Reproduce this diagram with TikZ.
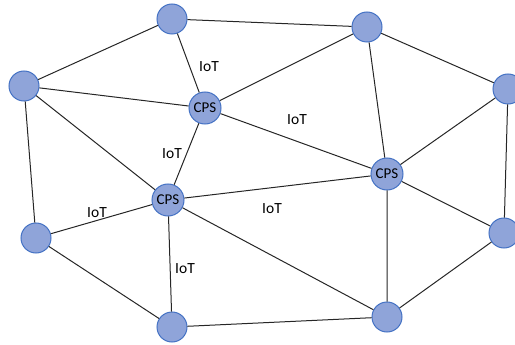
\documentclass[tikz,border=0pt]{standalone}
\usepackage{fontspec}
\setmainfont{Carlito}
\definecolor{nodefill}{RGB}{143,164,217}
\definecolor{nodeline}{RGB}{68,114,196}
\begin{document}
\begin{tikzpicture}[x=1pt,y=-1pt,
  dot/.style={circle,fill=nodefill,draw=nodeline,line width=1pt,minimum size=30pt,inner sep=0pt},
  cps/.style={circle,fill=nodefill,draw=nodeline,line width=1pt,minimum size=32pt,inner sep=0pt,font=\fontsize{15}{17}\selectfont},
  lbl/.style={font=\fontsize{15.5}{17}\selectfont,inner sep=0pt},
  edge/.style={draw=black!85,line width=1pt}]
\useasboundingbox (0,0) rectangle (515,345);
\node[dot] (A) at (172,19) {};
\node[dot] (B) at (367,27) {};
\node[dot] (C) at (24,86) {};
\node[dot] (D) at (508,89) {};
\node[cps] (P1) at (205,108) {CPS};
\node[cps] (P2) at (387,174) {CPS};
\node[cps] (P3) at (168,200) {CPS};
\node[dot] (E) at (36,238) {};
\node[dot] (F) at (504,233) {};
\node[dot] (G) at (172,327) {};
\node[dot] (H) at (387,317) {};
\path[edge] (A) -- (B) (A) -- (C) (A) -- (P1) (B) -- (P1) (B) -- (D) (B) -- (P2)
  (C) -- (P1) (C) -- (E) (C) -- (P3) (D) -- (P2) (D) -- (F)
  (P1) -- (P2) (P1) -- (P3) (P2) -- (P3) (P2) -- (F) (P2) -- (H)
  (P3) -- (E) (P3) -- (G) (P3) -- (H) (E) -- (G) (G) -- (H) (H) -- (F);
\node[lbl] (L1) at (209,67) {IoT};
\node[lbl] (L2) at (297,120) {IoT};
\node[lbl] (L3) at (172,154) {IoT};
\node[lbl] (L4) at (97,213) {IoT};
\node[lbl] (L5) at (272,209) {IoT};
\node[lbl] (L6) at (185,269) {IoT};
\end{tikzpicture}
\end{document}
